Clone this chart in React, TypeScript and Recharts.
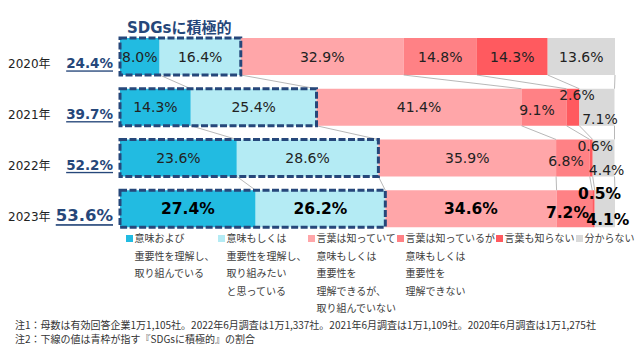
import React from 'react';
import { BarChart, Bar, XAxis, YAxis, LabelList, Legend } from 'recharts';

const years = ['2020年', '2021年', '2022年', '2023年'];
const sdgsTotals = ['24.4%', '39.7%', '52.2%', '53.6%'];
const understandAct = [8.0, 14.3, 23.6, 27.4];
const understandWant = [16.4, 25.4, 28.6, 26.2];
const knowNoAct = [32.9, 41.4, 35.9, 34.6];
const knowNotUnderstand = [14.8, 9.1, 6.8, 7.2];
const dontKnowWord = [14.3, 2.6, 0.6, 0.5];
const unknown = [13.6, 7.1, 4.4, 4.1];

const seriesKeys = ['s1', 's2', 's3', 's4', 's5', 's6'];
const seriesColors = ['#22BBE1', '#B4EBF4', '#FFA6A9', '#FF8185', '#FF5A5F', '#D9D9D9'];
const legendLines = [
  ['意味および', '重要性を理解し、', '取り組んでいる'],
  ['意味もしくは', '重要性を理解し、', '取り組みたい', 'と思っている'],
  ['言葉は知っていて', '意味もしくは', '重要性を', '理解できるが、', '取り組んでいない'],
  ['言葉は知っているが', '意味もしくは', '重要性を', '理解できない'],
  ['言葉も知らない'],
  ['分からない'],
];
const boxTitle = 'SDGsに積極的';
const notes = [
  '注1：母数は有効回答企業1万1,105社。2022年6月調査は1万1,337社。2021年6月調査は1万1,109社。2020年6月調査は1万1,275社',
  '注2：下線の値は青枠が指す『SDGsに積極的』の割合',
];

const seriesValues = [understandAct, understandWant, knowNoAct, knowNotUnderstand, dontKnowWord, unknown];

const data = years.map((y, i) => {
  const row: any = { year: y, total: sdgsTotals[i] };
  seriesKeys.forEach((k, j) => {
    row[k] = seriesValues[j][i];
  });
  return row;
});

const W = 635;
const H = 350;
const MARGIN = { top: 31, right: 20, bottom: 116, left: 0 };
const PLOT_H = H - MARGIN.top - MARGIN.bottom;
const PITCH = PLOT_H / years.length;
const BAR = 37;
const NAVY = '#26477A';
const NUM_FONT = '"DejaVu Sans", "Noto Sans CJK JP", sans-serif';
const JP_FONT = '"Noto Sans CJK JP", sans-serif';

const cumAt = (row: number, k: number) => {
  let s = 0;
  for (let j = 0; j < k; j++) s += seriesValues[j][row];
  return s;
};

const YTick = (props: any) => {
  const { y, payload } = props;
  const i = years.indexOf(payload.value);
  const last = i === years.length - 1;
  return (
    <g>
      <text x={8} y={y + 8} dominantBaseline="central" fontSize={12} fill="#222" fontFamily={NUM_FONT}>
        {payload.value}
      </text>
      <text
        x={113}
        y={y + 7}
        dominantBaseline="central"
        textAnchor="end"
        fontSize={last ? 16.5 : 13.5}
        fontWeight="bold"
        fill={NAVY}
        fontFamily={NUM_FONT}
        textDecoration="underline"
        style={{ textDecoration: 'underline' }}
      >
        {i >= 0 ? sdgsTotals[i] : ''}
      </text>
    </g>
  );
};

const makeLabel = (seriesIndex: number) => (props: any) => {
  const { x, y, width, height, value, index } = props;
  const bold = index === years.length - 1;
  let tx = x + width / 2;
  let ty = y + height / 2;
  if (index >= 1) {
    if (seriesIndex === 3) {
      tx -= 7;
      ty += bold ? 4 : 3;
    } else if (seriesIndex === 4) {
      tx += bold ? 6 : 4;
      ty = y + (bold ? 3.5 : 6);
    } else if (seriesIndex === 5) {
      tx += 3;
      ty = y + height - 7;
    }
  }
  return (
    <text
      x={tx}
      y={ty}
      textAnchor="middle"
      dominantBaseline="central"
      fontSize={bold ? 15.5 : 14}
      fontWeight={bold ? 'bold' : 'normal'}
      fill={bold ? '#000' : '#222'}
      fontFamily={NUM_FONT}
    >
      {Number(value).toFixed(1)}%
    </text>
  );
};

const LastShape = (props: any) => {
  const { x, y, width, height, fill, index } = props;
  const v = seriesValues[5][index];
  const ppu = width / v;
  const x0 = x - cumAt(index, 5) * ppu;
  const boxW = cumAt(index, 2) * ppu;
  const lines: any[] = [];
  if (index < years.length - 1) {
    for (let k = 1; k <= 6; k++) {
      lines.push(
        <line
          key={k}
          x1={x0 + cumAt(index, k) * ppu}
          y1={y + height}
          x2={x0 + cumAt(index + 1, k) * ppu}
          y2={y + PITCH}
          stroke="#A6A6A6"
          strokeWidth={0.8}
        />
      );
    }
  }
  return (
    <g>
      <rect x={x} y={y} width={width} height={height} fill={fill} />
      {lines}
      <rect
        x={x0}
        y={y}
        width={boxW}
        height={height}
        fill="none"
        stroke={NAVY}
        strokeWidth={3}
        strokeDasharray="7 2.5"
      />
      {index === 0 && (
        <text
          x={x0 + 7}
          y={y - 10}
          dominantBaseline="central"
          fontSize={15}
          fontWeight="bold"
          fill={NAVY}
          fontFamily={NUM_FONT}
        >
          {boxTitle}
        </text>
      )}
    </g>
  );
};

const markerX = [126, 218, 308, 397, 496, 576];

const LegendContent = () => (
  <div style={{ position: 'absolute', left: 0, top: 0, width: W, height: H }}>
    {legendLines.map((lines, i) => (
      <div key={i}>
        <div
          style={{
            position: 'absolute',
            left: markerX[i],
            top: 234.5,
            width: 7,
            height: 7,
            background: seriesColors[i],
          }}
        />
        {lines.map((t, j) => (
          <div
            key={j}
            style={{
              position: 'absolute',
              left: markerX[i] + 8.5,
              top: 238 + j * 17.6 - 7,
              lineHeight: '14px',
              fontSize: 10,
              color: '#404040',
              fontFamily: JP_FONT,
              whiteSpace: 'nowrap',
            }}
          >
            {t}
          </div>
        ))}
      </div>
    ))}
  </div>
);

export default function App() {
  return (
    <div style={{ position: 'absolute', left: 0, top: 0, width: W, height: H, background: '#fff' }}>
      <BarChart layout="vertical" width={W} height={H} data={data} margin={MARGIN} barSize={BAR}>
        <XAxis type="number" domain={[0, 100]} hide />
        <YAxis
          type="category"
          dataKey="year"
          width={120}
          axisLine={false}
          tickLine={false}
          interval={0}
          tick={(p: any) => <YTick {...p} />}
        />
        {seriesKeys.map((k, i) => (
          <Bar
            key={k}
            dataKey={k}
            stackId="a"
            fill={seriesColors[i]}
            isAnimationActive={false}
            shape={i === 5 ? (p: any) => <LastShape {...p} /> : undefined}
          >
            <LabelList dataKey={k} content={makeLabel(i)} />
          </Bar>
        ))}
        <Legend
          layout="vertical"
          align="center"
          verticalAlign="middle"
          content={() => <LegendContent />}
          wrapperStyle={{ position: 'absolute', left: 0, top: 0, width: W, height: H, pointerEvents: 'none' }}
        />
      </BarChart>
      {notes.map((n, i) => (
        <div
          key={i}
          style={{
            position: 'absolute',
            left: 15,
            top: 325 + i * 13.5 - 7,
            lineHeight: '14px',
            fontSize: 10,
            color: '#333',
            fontFamily: JP_FONT,
            whiteSpace: 'nowrap',
          }}
        >
          {n}
        </div>
      ))}
    </div>
  );
}
